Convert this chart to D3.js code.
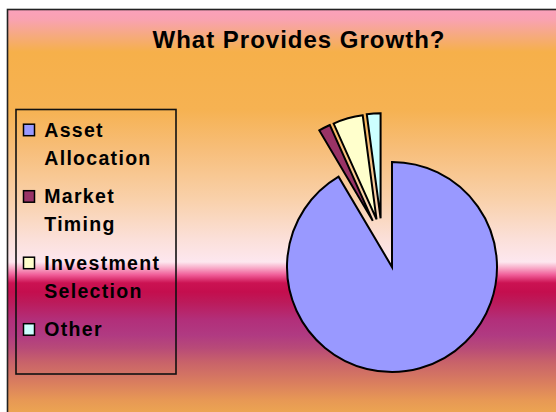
<!DOCTYPE html>
<html>
<head>
<meta charset="utf-8">
<script src="https://cdn.jsdelivr.net/npm/d3@7"></script>
<style>
  body { margin: 0; background: #fff; }
  svg { display: block; font-family: "Liberation Sans", Arial, sans-serif; }
</style>
</head>
<body>
<svg id="chart" width="556" height="412"></svg>
<script>
// chart data
const title = "What Provides Growth?";
const categories = ["Asset Allocation", "Market Timing", "Investment Selection", "Other"];
const legendLines = [["Asset", "Allocation"], ["Market", "Timing"], ["Investment", "Selection"], ["Other"]];
const values = [91.5, 1.8, 4.6, 2.1];
const sliceColors = ["#9999ff", "#993366", "#ffffcc", "#ccffff"];
const explodedSlices = ["Market Timing", "Investment Selection", "Other"];

const width = 556, height = 412;
const svg = d3.select("#chart");

// background gradient (sunset-like)
const bgStops = [
    [9, "#fba0bc"], [20, "#f9a2b0"], [35, "#f6aa80"], [52, "#f6b04a"],
    [110, "#f6b252"], [150, "#f7be7a"], [200, "#f9d1ab"], [240, "#fbe0da"],
    [262, "#fde7ef"], [268, "#f8aac8"], [275, "#f05c98"], [283, "#cb1252"],
    [292, "#c40e4e"], [302, "#bc1a5a"], [320, "#b22f7a"], [335, "#b03a82"],
    [348, "#b84a78"], [362, "#c8626a"], [382, "#d97d5f"], [400, "#e79855"],
    [412, "#eca452"]
];
const defs = svg.append("defs");
const grad = defs.append("linearGradient")
    .attr("id", "bg")
    .attr("gradientUnits", "userSpaceOnUse")
    .attr("x1", 0).attr("y1", 9).attr("x2", 0).attr("y2", 412);
grad.selectAll("stop")
    .data(bgStops)
    .join("stop")
    .attr("offset", d => (d[0] - 9) / (412 - 9))
    .attr("stop-color", d => d[1]);

svg.append("rect")
    .attr("x", 7.5).attr("y", 9.5)
    .attr("width", width).attr("height", height)
    .attr("fill", "url(#bg)")
    .attr("stroke", "#222")
    .attr("stroke-width", 1.6);

// title
svg.append("text")
    .attr("x", 299)
    .attr("y", 47.7)
    .attr("text-anchor", "middle")
    .style("font-size", "24px")
    .style("font-weight", "bold")
    .style("letter-spacing", "1px")
    .attr("fill", "#000")
    .text(title);

// pie
const cx = 392, cy = 267, radius = 105, explodeDist = 50;
const pie = d3.pie().sort(null).value(d => d.value);
const arcs = pie(categories.map((c, i) => ({ name: c, value: values[i] })));
const arc = d3.arc().innerRadius(0).outerRadius(radius);

const exArcs = arcs.filter(a => explodedSlices.includes(a.data.name));
const groupMid = (d3.min(exArcs, a => a.startAngle) + d3.max(exArcs, a => a.endAngle)) / 2;

// exploded slices fan out less than their own bisectors
function offset(a) {
    if (!explodedSlices.includes(a.data.name)) return [0, 0];
    const mid = (a.startAngle + a.endAngle) / 2;
    const ang = groupMid + 0.4 * (mid - groupMid) - 2.5 * Math.PI / 180;
    return [Math.sin(ang) * explodeDist, -Math.cos(ang) * explodeDist];
}

const color = d3.scaleOrdinal().domain(categories).range(sliceColors);

svg.append("g")
    .attr("transform", `translate(${cx}, ${cy})`)
    .selectAll("path")
    .data(arcs)
    .join("path")
    .attr("transform", d => `translate(${offset(d)})`)
    .attr("d", arc)
    .attr("fill", d => color(d.data.name))
    .attr("stroke", "#000")
    .attr("stroke-width", 2)
    .attr("stroke-linejoin", "miter");

// legend
const legend = svg.append("g");
legend.append("rect")
    .attr("x", 16).attr("y", 109.5)
    .attr("width", 160).attr("height", 264.5)
    .attr("fill", "none")
    .attr("stroke", "#111")
    .attr("stroke-width", 1.6);

const items = legend.selectAll("g.item")
    .data(categories)
    .join("g")
    .attr("class", "item")
    .attr("transform", (d, i) => `translate(0, ${136.7 + i * 66.5})`);

items.append("rect")
    .attr("x", 23.5).attr("y", -12.5)
    .attr("width", 11).attr("height", 11.5)
    .attr("fill", d => color(d))
    .attr("stroke", "#000")
    .attr("stroke-width", 1.5);

items.each(function (d, i) {
    d3.select(this).selectAll("text")
        .data(legendLines[i])
        .join("text")
        .attr("x", 44.3)
        .attr("y", (t, j) => j * 28.3)
        .style("font-size", "19.5px")
        .style("font-weight", "bold")
        .style("letter-spacing", "1.3px")
        .attr("fill", "#000")
        .text(t => t);
});
</script>
</body>
</html>
